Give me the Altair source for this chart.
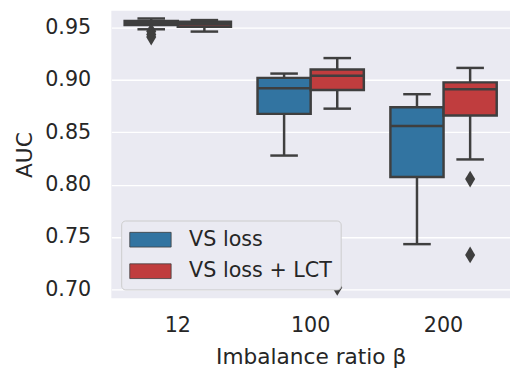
import altair as alt
import pandas as pd

categories = ["12", "100", "200"]
methods = ["VS loss", "VS loss + LCT"]
colors = ["#3274a1", "#c03d3e"]

box_cat = ["12", "12", "100", "100", "200", "200"]
box_method = ["VS loss", "VS loss + LCT", "VS loss", "VS loss + LCT", "VS loss", "VS loss + LCT"]
whisker_low = [0.9484, 0.9462, 0.8278, 0.8726, 0.7432, 0.8241]
q1 = [0.9525, 0.9509, 0.8676, 0.8905, 0.8074, 0.8661]
median = [0.9542, 0.9533, 0.8920, 0.9040, 0.8560, 0.8911]
q3 = [0.9563, 0.9556, 0.9020, 0.9100, 0.8739, 0.8977]
whisker_high = [0.9587, 0.9572, 0.9061, 0.9209, 0.8864, 0.9115]

outlier_cat = ["12", "12", "12", "100", "200", "200"]
outlier_method = ["VS loss", "VS loss", "VS loss", "VS loss + LCT", "VS loss + LCT", "VS loss + LCT"]
outlier_value = [0.9465, 0.9435, 0.9410, 0.7019, 0.8053, 0.7329]

y_ticks = [0.70, 0.75, 0.80, 0.85, 0.90, 0.95]

boxes = pd.DataFrame({
    "ratio": box_cat, "method": box_method, "low": whisker_low,
    "q1": q1, "median": median, "q3": q3, "high": whisker_high,
})
outs = pd.DataFrame({"ratio": outlier_cat, "method": outlier_method, "value": outlier_value})

LINE = "#3f3f3f"
LW = 2.5

xenc = alt.X(
    "ratio:N", sort=categories,
    scale=alt.Scale(domain=categories, paddingInner=0.2, paddingOuter=0.1),
    axis=alt.Axis(title="Imbalance ratio β", labelAngle=0, ticks=False, tickSize=0,
                  domain=False, grid=False, labelPadding=17, titlePadding=11,
                  labelFontSize=21, titleFontSize=22, titleFontWeight="normal"),
)
xoff = alt.XOffset("method:N", sort=methods,
                   scale=alt.Scale(domain=methods, paddingInner=0, paddingOuter=0))
yscale = alt.Scale(domain=[0.6915, 0.966], nice=False, zero=False)
yaxis = alt.Axis(title="AUC", values=y_ticks, format=".2f", ticks=False, tickSize=0,
                 domain=False, grid=True, gridColor="white", gridWidth=1.4,
                 labelPadding=21, titlePadding=8, labelFontSize=21, titleFontSize=22,
                 titleFontWeight="normal")

base = alt.Chart(boxes)

whisk = base.mark_rule(color=LINE, strokeWidth=LW).encode(
    x=xenc, xOffset=xoff,
    y=alt.Y("low:Q", scale=yscale, axis=yaxis), y2="high:Q")

box = base.mark_bar(stroke=LINE, strokeWidth=LW, opacity=1).encode(
    x=xenc, xOffset=xoff,
    y=alt.Y("q1:Q", scale=yscale, axis=yaxis), y2="q3:Q",
    color=alt.Color("method:N", sort=methods,
                    scale=alt.Scale(domain=methods, range=colors),
                    legend=alt.Legend(
                        title=None, orient="none", legendX=10, legendY=213,
                        symbolType="M-0.98,-0.68H2.84V0.68H-0.98Z", symbolSize=484,
                        symbolStrokeColor=LINE, symbolStrokeWidth=0.8,
                        symbolOpacity=1,
                        labelFontSize=21, labelFont="DejaVu Sans", labelColor="#262626",
                        labelOffset=38, rowPadding=10,
                        fillColor="#eaeaf2", strokeColor="#cccccc", cornerRadius=4,
                        padding=8)))

med = base.mark_tick(color=LINE, thickness=LW, size=54, opacity=1).encode(
    x=xenc, xOffset=xoff, y=alt.Y("median:Q", scale=yscale, axis=yaxis))

caplo = base.mark_tick(color=LINE, thickness=LW, size=28, opacity=1).encode(
    x=xenc, xOffset=xoff, y=alt.Y("low:Q", scale=yscale, axis=yaxis))

caphi = base.mark_tick(color=LINE, thickness=LW, size=28, opacity=1).encode(
    x=xenc, xOffset=xoff, y=alt.Y("high:Q", scale=yscale, axis=yaxis))

outl = alt.Chart(outs).mark_point(
    shape="M0,-1L0.6,0L0,1L-0.6,0Z", filled=True, size=289, color=LINE, opacity=1
).encode(x=xenc, xOffset=xoff, y=alt.Y("value:Q", scale=yscale, axis=yaxis))

chart = alt.layer(whisk, box, med, caplo, caphi, outl).properties(
    width=405, height=292,
    padding={"left": 105, "top": 0, "right": 0, "bottom": 72},
    autosize=alt.AutoSizeParams(type="none"),
).configure_view(fill="#eaeaf2", strokeWidth=0).configure_axis(
    labelFont="DejaVu Sans", titleFont="DejaVu Sans",
    labelColor="#262626", titleColor="#262626",
)

chart.save("out.html", embed_options={"renderer": "svg", "actions": False})
